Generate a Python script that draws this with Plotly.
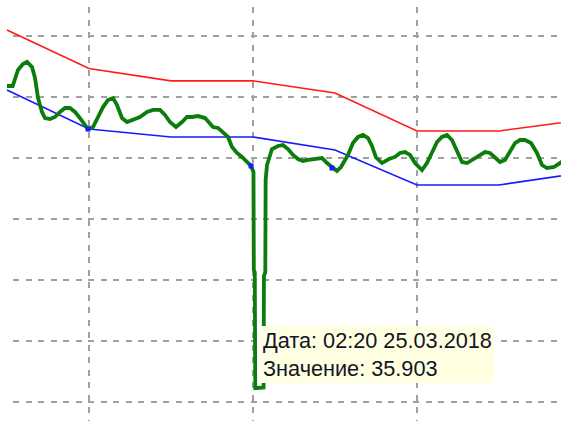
import plotly.graph_objects as go
import pandas as pd

# ---------------- data ----------------
START = pd.Timestamp("2018-03-23 14:00")

band_hours = [0, 12, 24, 36, 48, 60, 72, 84]
upper_values = [59.39, 56.87, 56.06, 56.06, 55.26, 52.77, 52.77, 53.49]
lower_values = [55.46, 52.90, 52.38, 52.38, 51.52, 49.23, 49.23, 50.02]

green_hours = [
    0.00, 0.83, 1.61, 2.34, 2.93, 3.66, 4.10, 4.54, 5.12, 5.56,
    6.29, 7.02, 7.76, 8.49, 9.22, 9.95, 10.68, 11.41, 11.85, 12.59,
    13.32, 14.05, 14.78, 15.51, 16.10, 16.83, 17.56, 18.44, 19.46, 20.49,
    21.37, 22.39, 23.12, 23.85, 24.73, 25.61, 26.34, 27.07, 27.95, 28.98,
    29.71, 30.15, 30.88, 31.61, 32.34, 32.93, 33.66, 34.39, 35.12, 35.71,
    36.07, 36.12, 36.26, 36.33, 37.55, 37.60, 37.80, 37.85, 38.05, 38.54,
    38.78, 39.66, 40.39, 41.12, 41.85, 42.59, 43.32, 44.05, 44.78, 45.51,
    46.10, 46.83, 47.56, 48.29, 48.88, 49.46, 49.90, 50.63, 51.37, 52.10,
    52.83, 53.41, 54.00, 54.88, 55.90, 56.78, 57.51, 58.24, 58.98, 59.71,
    60.73, 61.46, 62.20, 62.93, 63.66, 64.39, 65.12, 65.85, 66.59, 67.32,
    68.05, 69.07, 69.95, 70.68, 71.41, 72.15, 72.88, 73.61, 74.34, 75.07,
    75.80, 76.68, 77.56, 78.29, 79.02, 80.05, 80.78, 81.37,
]
green_values = [
    55.72, 55.72, 56.77, 57.16, 57.30, 56.97, 56.25, 54.93, 54.02, 53.62,
    53.56, 53.69, 54.02, 54.28, 54.28, 54.02, 53.62, 53.16, 52.90, 53.03,
    53.69, 54.34, 54.80, 54.93, 54.47, 53.62, 53.36, 53.49, 53.69, 54.02,
    54.15, 54.15, 53.82, 53.36, 53.03, 53.36, 53.69, 53.69, 53.75, 53.62,
    53.30, 53.03, 52.97, 52.70, 52.38, 51.72, 51.33, 51.07, 50.74, 50.48,
    50.08, 43.66, 43.50, 35.903, 35.95, 43.26, 43.52, 49.56, 50.54, 51.39,
    51.59, 51.79, 51.85, 51.59, 51.20, 50.93, 50.80, 50.87, 50.93, 51.00,
    51.00, 50.67, 50.41, 50.15, 50.41, 50.87, 51.20, 51.98, 52.38, 52.51,
    52.31, 51.79, 51.03, 50.67, 50.93, 51.07, 51.33, 51.39, 51.20, 50.67,
    50.21, 50.67, 51.33, 52.05, 52.38, 52.51, 52.18, 51.39, 50.74, 50.67,
    50.87, 51.20, 51.39, 51.33, 51.00, 50.74, 50.87, 51.39, 51.98, 52.18,
    52.18, 51.98, 51.33, 50.54, 50.34, 50.41, 50.67, 50.80,
]

marker_hours = [11.85, 35.71, 47.56]
marker_values = [52.90, 50.48, 50.34]

tooltip_date = "02:20 25.03.2018"
tooltip_value = "35.903"


def to_time(hours):
    return [START + pd.Timedelta(hours=h) for h in hours]


# ---------------- geometry of the view ----------------
W, H = 561, 421
PX_PER_HOUR = 164 / 24
PX_PER_UNIT = 61 / 4
X_START_PX = 7
Y35_PX = 402


def t_at(px):
    return (START + pd.Timedelta(hours=(px - X_START_PX) / PX_PER_HOUR)).strftime("%Y-%m-%d %H:%M:%S.%f")


def v_at(py):
    return 35 + (Y35_PX - py) / PX_PER_UNIT


GRID = dict(showgrid=True, gridcolor="#a0a0a0", gridwidth=1.6, griddash="6.25px,6.25px",
            showticklabels=False, ticks="", showline=False, zeroline=False)

fig = go.Figure()

# empty trace so that the grid subplot (x / y) is drawn
fig.add_trace(go.Scatter(x=[], y=[], mode="lines", xaxis="x", yaxis="y",
                         showlegend=False, hoverinfo="skip"))

fig.add_trace(go.Scatter(x=to_time(band_hours), y=upper_values, mode="lines",
                         line=dict(color="#ff1a1a", width=1.6), xaxis="x2", yaxis="y2",
                         showlegend=False, hoverinfo="skip"))
fig.add_trace(go.Scatter(x=to_time(band_hours), y=lower_values, mode="lines",
                         line=dict(color="#1a1aff", width=1.6), xaxis="x2", yaxis="y2",
                         showlegend=False, hoverinfo="skip"))
fig.add_trace(go.Scatter(x=to_time(green_hours), y=green_values, mode="lines",
                         line=dict(color="#0a7d0a", width=3.8), xaxis="x2", yaxis="y2",
                         showlegend=False))
fig.add_trace(go.Scatter(x=to_time(marker_hours), y=marker_values, mode="markers",
                         marker=dict(color="#1a1aff", size=5, symbol="square"),
                         xaxis="x2", yaxis="y2", showlegend=False, hoverinfo="skip"))

fig.update_layout(
    width=W, height=H,
    margin=dict(l=0, r=0, t=0, b=0, pad=0),
    paper_bgcolor="white",
    plot_bgcolor="rgba(0,0,0,0)",
    showlegend=False,
    xaxis=dict(type="date", domain=[13 / W, 1], range=[t_at(13), t_at(W)], anchor="y",
               tick0="2018-03-24 02:00", dtick=86400000, fixedrange=True, **GRID),
    yaxis=dict(domain=[0, 1 - 7 / H], range=[v_at(H), v_at(7)], anchor="x",
               tick0=35, dtick=4, fixedrange=True, **GRID),
    xaxis2=dict(type="date", domain=[0, 1], range=[t_at(0), t_at(W)], anchor="y2",
                visible=False, fixedrange=True),
    yaxis2=dict(domain=[0, 1], range=[v_at(H), v_at(0)], anchor="x2", visible=False,
                fixedrange=True),
    annotations=[dict(
        xref="paper", yref="paper", x=261 / W, y=1 - 326 / H,
        xanchor="left", yanchor="top", align="left", showarrow=False,
        text=f"Дата: {tooltip_date}<br>Значение: {tooltip_value}",
        bgcolor="#FFFFE1", borderpad=2, borderwidth=0,
        font=dict(family="Liberation Sans", size=21.7, color="#141428"),
    )],
)

fig.write_html("out.html", config={"displayModeBar": False},
               post_script="document.body.style.margin='0';")
